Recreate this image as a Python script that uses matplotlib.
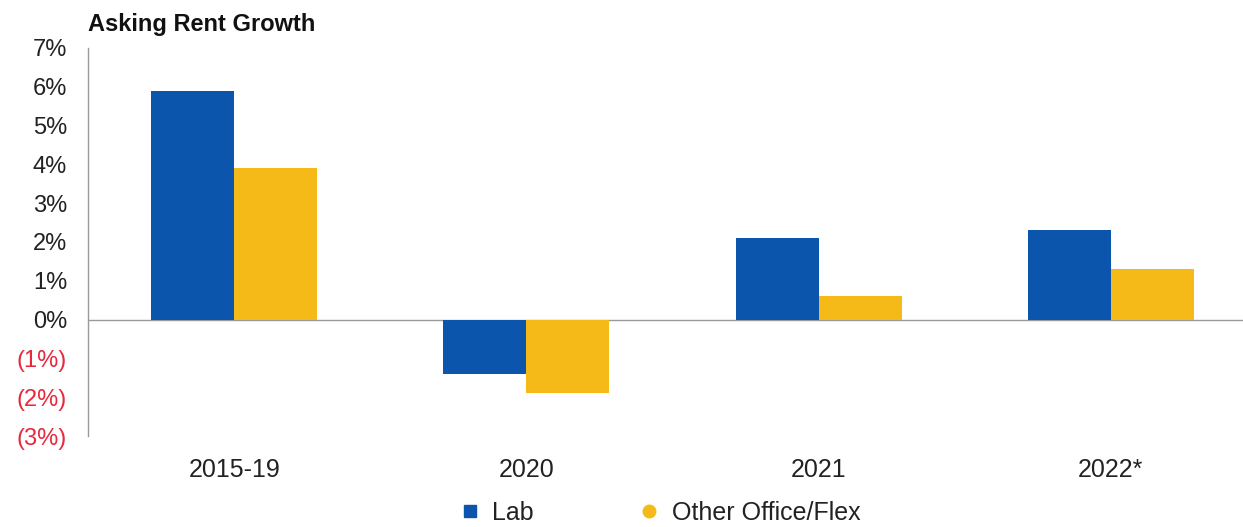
import matplotlib.pyplot as plt
from matplotlib.lines import Line2D
import numpy as np

plt.rcParams['font.family'] = ['Liberation Sans', 'DejaVu Sans']

# asking rent growth, percent
periods = ['2015-19', '2020', '2021', '2022*']
lab = [5.9, -1.4, 2.1, 2.3]
other_office = [3.9, -1.9, 0.6, 1.3]
y_ticks = [-3, -2, -1, 0, 1, 2, 3, 4, 5, 6, 7]

blue = '#0B55AC'
gold = '#F5B918'

fig = plt.figure(figsize=(12.43, 5.27), dpi=100)
ax = fig.add_axes([88 / 1243, 1 - 436 / 527, 1 - 88 / 1243, 388 / 527])

x = np.arange(len(periods))
w = 0.284
ax.bar(x - w / 2, lab, w, color=blue, zorder=2)
ax.bar(x + w / 2, other_office, w, color=gold, zorder=2)

ax.axhline(0, color='#9a9a9a', lw=1.0, zorder=1)
ax.set_xlim(-0.5, 3.452)
ax.set_ylim(-3, 7)

for s in ['top', 'right', 'bottom']:
    ax.spines[s].set_visible(False)
ax.spines['left'].set_color('#9a9a9a')
ax.spines['left'].set_linewidth(1.0)

ax.set_yticks(y_ticks)
ax.set_yticklabels([f'{v}%' if v >= 0 else f'({-v}%)' for v in y_ticks])
for t, v in zip(ax.get_yticklabels(), y_ticks):
    t.set_color('#e8283c' if v < 0 else '#222222')
ax.tick_params(axis='y', length=0, pad=15, labelsize=17)

ax.set_xticks(x)
ax.set_xticklabels(periods)
ax.tick_params(axis='x', length=0, pad=16, labelsize=18, labelcolor='#222222')

fig.text(88 / 1243, 1 - 25 / 527, 'Asking Rent Growth', fontsize=17,
         fontweight='bold', va='center', ha='left', color='#111111')

handles = [
    Line2D([], [], ls='', marker='s', ms=8, color=blue, label='Lab'),
    Line2D([], [], ls='', marker='o', ms=9, color=gold, label='Other Office/Flex'),
]
fig.legend(handles=handles, loc='center', bbox_to_anchor=(660 / 1243, 1 - 513 / 527),
           ncol=2, frameon=False, fontsize=18, handlelength=0.8, handletextpad=0.5,
           columnspacing=4.2, labelcolor='#222222')

fig.savefig('out.png', dpi=100, facecolor='white')
